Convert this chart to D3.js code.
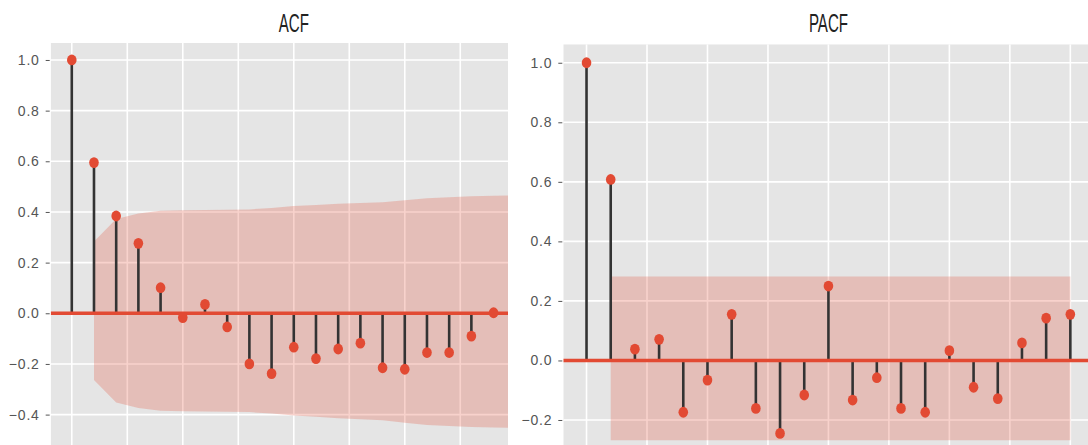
<!DOCTYPE html>
<html>
<head>
<meta charset="utf-8">
<script src="https://cdn.jsdelivr.net/npm/d3@7"></script>
<style>
  html, body { margin: 0; padding: 0; background: #fff; overflow: hidden; }
  svg { display: block; }
  .tick text { font-family: "Liberation Sans", Arial, sans-serif; font-size: 14px; fill: #555; letter-spacing: 0.8px; }
  .title { font-family: "Liberation Sans", Arial, sans-serif; font-size: 26px; fill: #222; }
</style>
</head>
<body>
<svg id="chart" width="1088" height="445"></svg>
<script>
// ACF values, lag 0..19 (lag 20 falls outside the visible crop)
const acfValues = [1.0, 0.595, 0.384, 0.276, 0.101, -0.017, 0.035, -0.054, -0.200, -0.238,
  -0.134, -0.179, -0.141, -0.118, -0.215, -0.221, -0.155, -0.155, -0.090, 0.002];
// ACF confidence band, lag 1..20
const acfBandUpper = [0.283, 0.372, 0.394, 0.405, 0.407, 0.408, 0.409, 0.410, 0.416, 0.424,
  0.427, 0.432, 0.435, 0.438, 0.446, 0.454, 0.458, 0.462, 0.464, 0.466];
const acfBandLower = [-0.263, -0.352, -0.374, -0.385, -0.387, -0.388, -0.389, -0.390, -0.396, -0.404,
  -0.408, -0.414, -0.418, -0.422, -0.432, -0.441, -0.445, -0.449, -0.451, -0.453];

// PACF values, lag 0..20
const pacfValues = [1.0, 0.608, 0.038, 0.071, -0.174, -0.066, 0.155, -0.161, -0.245, -0.116,
  0.250, -0.133, -0.058, -0.161, -0.174, 0.033, -0.090, -0.128, 0.059, 0.142, 0.155];
// PACF confidence band, lag 1..20
const pacfBandUpper = [0.282, 0.282, 0.282, 0.282, 0.282, 0.282, 0.282, 0.282, 0.282, 0.282,
  0.282, 0.282, 0.282, 0.282, 0.282, 0.282, 0.282, 0.282, 0.282, 0.282];
const pacfBandLower = [-0.268, -0.268, -0.268, -0.268, -0.268, -0.268, -0.268, -0.268, -0.268, -0.268,
  -0.268, -0.268, -0.268, -0.268, -0.268, -0.268, -0.268, -0.268, -0.268, -0.268];

const xTicks = [0, 2.5, 5, 7.5, 10, 12.5, 15, 17.5, 20];
const acfYTicks = [-0.4, -0.2, 0.0, 0.2, 0.4, 0.6, 0.8, 1.0];
const pacfYTicks = [-0.2, 0.0, 0.2, 0.4, 0.6, 0.8, 1.0];

const RED = '#E24A33';
const svg = d3.select('#chart');
const fmt = d3.format('.1f');

/** Draw one correlogram panel. */
function drawPanel(opts) {
  const { id, title, values, bandUpper, bandLower, yTicks, left, right, top, bottom, xDomain, yDomain } = opts;

  const x = d3.scaleLinear().domain(xDomain).range([left, right]);
  const y = d3.scaleLinear().domain(yDomain).range([top, bottom]);

  svg.append('defs').append('clipPath').attr('id', id)
    .append('rect')
    .attr('x', left).attr('y', top)
    .attr('width', right - left).attr('height', bottom - top);

  const g = svg.append('g');
  const plot = g.append('g').attr('clip-path', `url(#${id})`);

  plot.append('rect')
    .attr('x', left).attr('y', top)
    .attr('width', right - left).attr('height', bottom - top)
    .attr('fill', '#E5E5E5');

  // Grid
  plot.append('g')
    .selectAll('line')
    .data(yTicks)
    .join('line')
    .attr('x1', left).attr('x2', right)
    .attr('y1', (d) => y(d)).attr('y2', (d) => y(d))
    .attr('stroke', '#fff').attr('stroke-width', 1.6);

  plot.append('g')
    .selectAll('line')
    .data(xTicks)
    .join('line')
    .attr('x1', (d) => x(d)).attr('x2', (d) => x(d))
    .attr('y1', top).attr('y2', bottom)
    .attr('stroke', '#fff').attr('stroke-width', 1.6);

  // Confidence band (lag 1 onwards), sits over the grid but under the stems
  const band = bandUpper.map((u, i) => ({ lag: i + 1, u, l: bandLower[i] }));
  plot.append('path')
    .datum(band)
    .attr('d', d3.area().x((d) => x(d.lag)).y0((d) => y(d.l)).y1((d) => y(d.u)))
    .attr('fill', RED).attr('fill-opacity', 0.25);

  // Stems
  plot.append('g')
    .selectAll('line')
    .data(values)
    .join('line')
    .attr('x1', (d, i) => x(i)).attr('x2', (d, i) => x(i))
    .attr('y1', y(0)).attr('y2', (d) => y(d))
    .attr('stroke', '#333').attr('stroke-width', 2.6);

  // Zero line
  plot.append('line')
    .attr('x1', left).attr('x2', right)
    .attr('y1', y(0)).attr('y2', y(0))
    .attr('stroke', RED).attr('stroke-width', 3.5);

  // Markers
  plot.append('g')
    .selectAll('ellipse')
    .data(values)
    .join('ellipse')
    .attr('cx', (d, i) => x(i))
    .attr('cy', (d) => y(d))
    .attr('rx', 4.8).attr('ry', 5.4)
    .attr('fill', RED);

  // Y axis
  const yAxis = g.append('g')
    .attr('transform', `translate(${left - 1},0)`)
    .call(d3.axisLeft(y).tickValues(yTicks).tickFormat(fmt).tickSize(4).tickPadding(6));
  yAxis.select('.domain').remove();
  yAxis.selectAll('.tick line').attr('stroke', '#555');

  // Title
  const cx = x(10);
  g.append('text')
    .attr('class', 'title')
    .attr('text-anchor', 'middle')
    .attr('transform', `translate(${cx},32) scale(0.58,1)`)
    .text(title);
}

drawPanel({
  id: 'clip-acf', title: 'ACF',
  values: acfValues, bandUpper: acfBandUpper, bandLower: acfBandLower,
  yTicks: acfYTicks,
  left: 50.7, right: 508, top: 43, bottom: 445,
  xDomain: [-0.95, 19.65], yDomain: [1.067, -0.52]
});

drawPanel({
  id: 'clip-pacf', title: 'PACF',
  values: pacfValues, bandUpper: pacfBandUpper, bandLower: pacfBandLower,
  yTicks: pacfYTicks,
  left: 563.3, right: 1088, top: 44.3, bottom: 445,
  xDomain: [-0.96, 20.73], yDomain: [1.062, -0.284]
});
</script>
</body>
</html>
